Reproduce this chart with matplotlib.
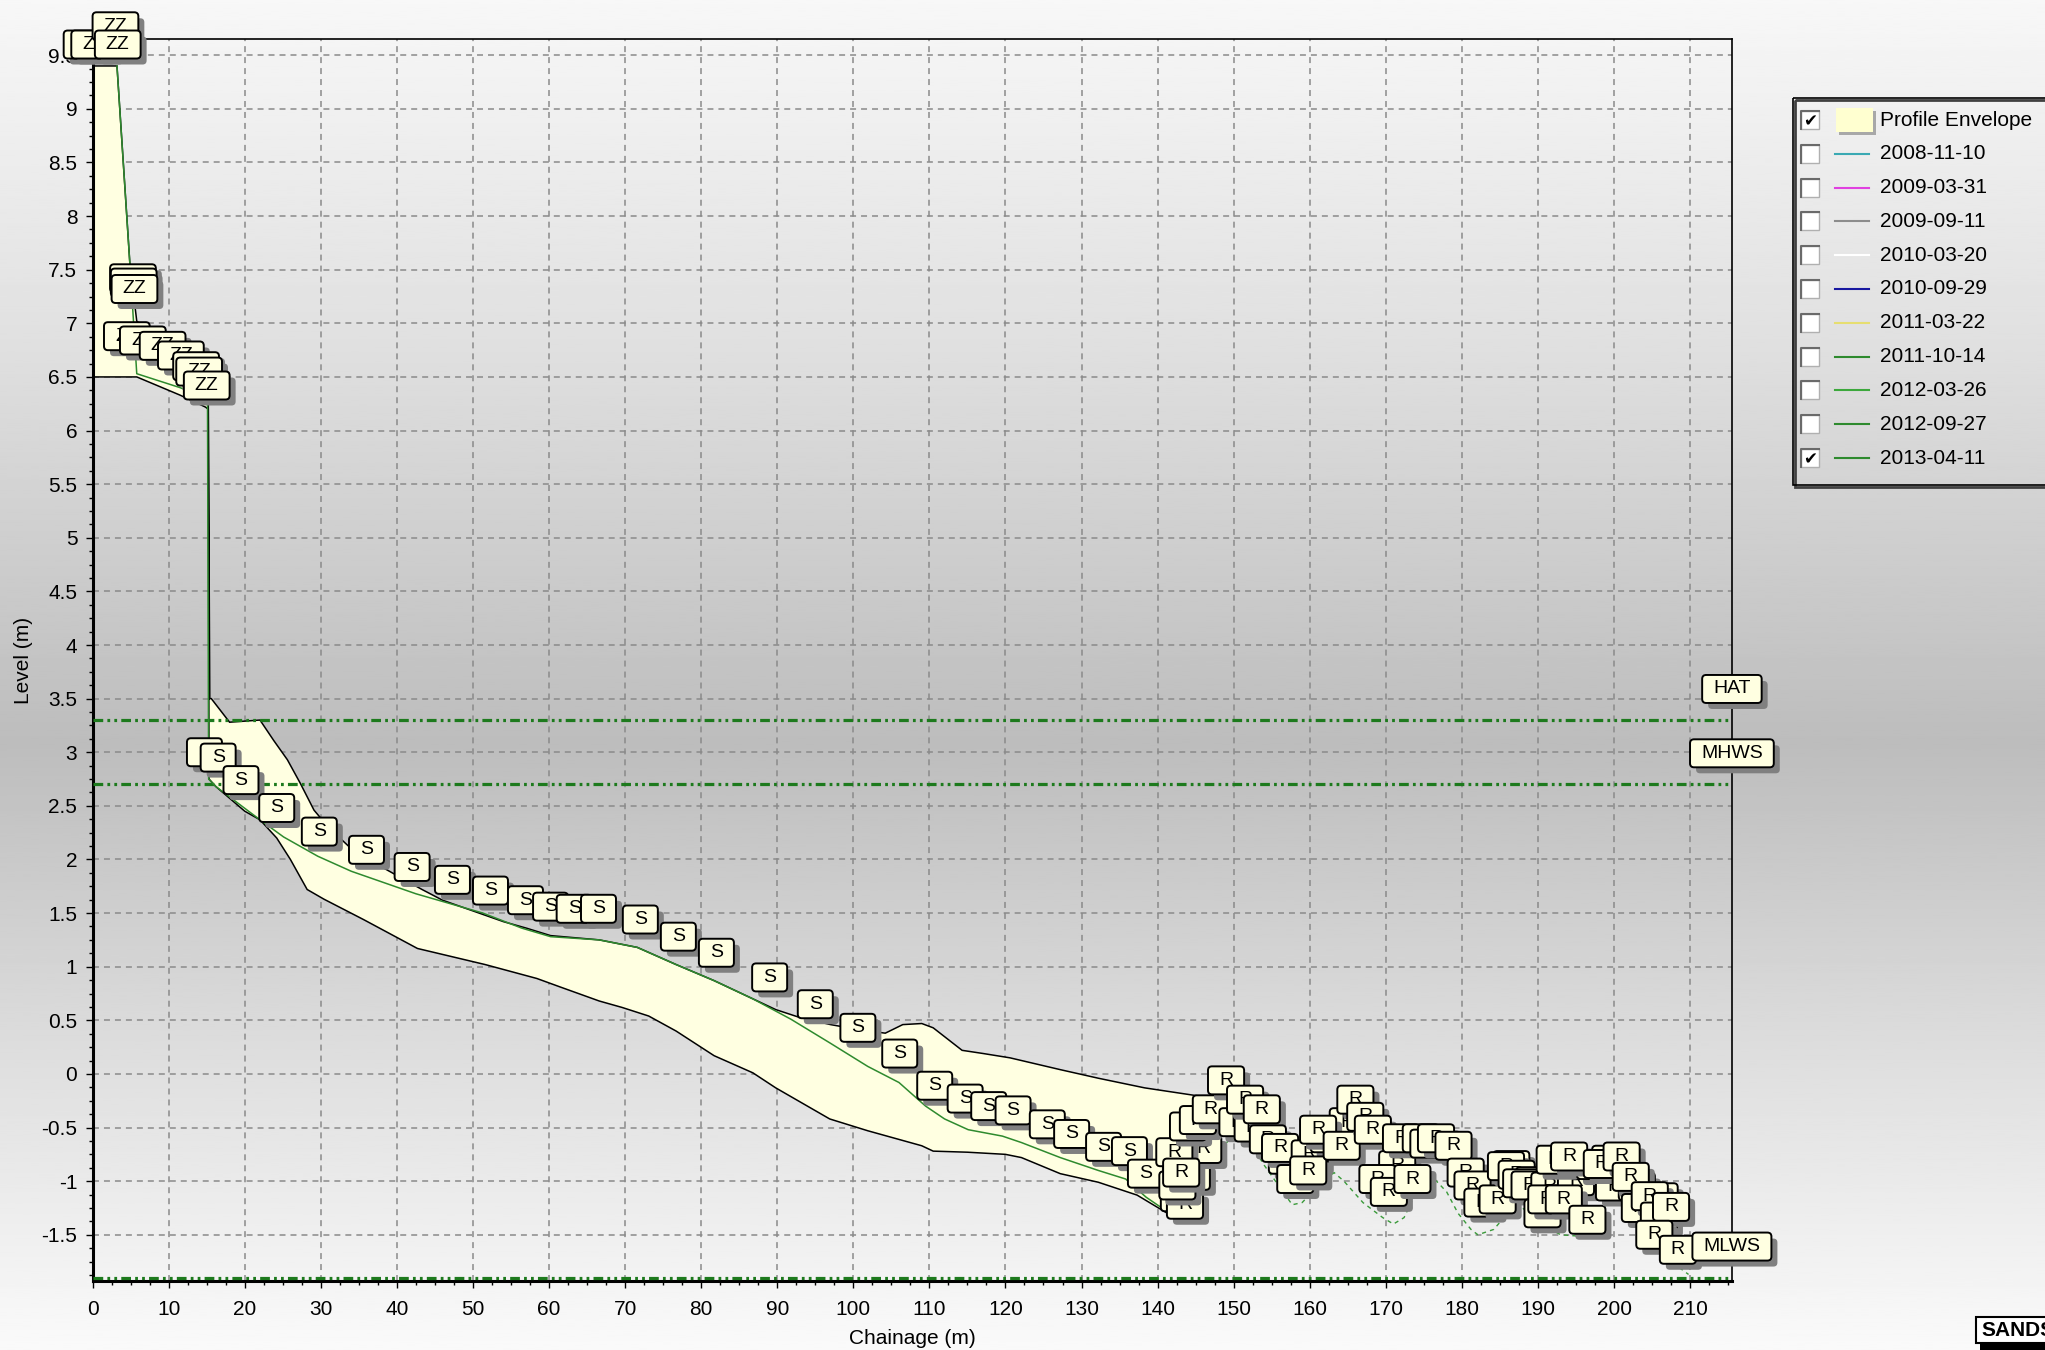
import numpy as np
import matplotlib
matplotlib.use("Agg")
import matplotlib.pyplot as plt
from matplotlib.patches import FancyBboxPatch, Rectangle
from matplotlib.transforms import ScaledTranslation
from matplotlib.ticker import MultipleLocator, FormatStrFormatter

plt.rcParams["font.family"] = ["Liberation Sans", "DejaVu Sans"]
plt.rcParams["lines.scale_dashes"] = False

# profile envelope (upper and lower bounds)
env_top_x = [0, 3.2, 4.9, 5.8, 8.0, 10.5, 12.5, 14.5, 15.2, 15.4, 15.6, 18.0, 22.0, 23.8,
             25.6, 27.3, 29.1, 31.0, 33.7, 38.0, 43.3, 46.0, 50.0, 54.0, 57.0, 60.2, 66.6,
             71.6, 76.7, 81.7, 86.8, 89.8, 92.8, 97.0, 101.0, 104.2, 106.5, 109.0, 110.5,
             114.3, 117.1, 120.6, 127.2, 132.2, 138.3, 145.8, 148.0]
env_top_y = [9.4, 9.4, 7.55, 7.02, 6.9, 6.78, 6.66, 6.52, 6.32, 3.5, 3.5, 3.28, 3.30, 3.11,
             2.93, 2.71, 2.46, 2.30, 2.12, 1.93, 1.72, 1.62, 1.52, 1.42, 1.36, 1.29, 1.25,
             1.18, 1.02, 0.87, 0.70, 0.60, 0.53, 0.46, 0.41, 0.38, 0.46, 0.47, 0.43,
             0.22, 0.19, 0.15, 0.04, -0.04, -0.13, -0.21, -0.22]
env_bot_x = [0, 5.8, 11.5, 14.8, 15.2, 15.3, 16.2, 20.0, 22.0, 24.2, 26.0, 28.2, 30.4, 35.6,
             42.7, 51.6, 58.4, 61.5, 66.6, 69.6, 73.1, 76.7, 81.7, 86.8, 89.8, 96.9, 101.9,
             109.0, 110.5, 115.0, 120.0, 122.1, 127.2, 132.2, 137.3, 142.0, 144.0, 146.0,
             148.0]
env_bot_y = [6.5, 6.5, 6.33, 6.22, 6.2, 2.75, 2.68, 2.45, 2.37, 2.2, 2.0, 1.72, 1.63, 1.44,
             1.17, 1.02, 0.89, 0.81, 0.68, 0.62, 0.54, 0.40, 0.17, 0.01, -0.13, -0.42, -0.53,
             -0.67, -0.72, -0.73, -0.75, -0.78, -0.93, -1.01, -1.13, -1.33, -1.2, -0.9,
             -0.5]

# 2013-04-11 survey
prof_x = [3.2, 4.9, 5.8, 11.5, 15.1, 15.25, 16.2, 22.0, 25.1, 29.6, 34.0, 42.5, 51.3, 56.4,
          60.2, 66.6, 71.6, 76.7, 81.7, 86.8, 91.8, 96.9, 101.9, 106.0, 109.5, 112.0, 115.1,
          119.6, 122.1, 127.2, 132.2, 135.8, 138.5, 142.0, 145.0, 148.0, 150.0, 152.0, 154.0,
          156.0, 157.7, 159.0, 161.0, 163.2, 164.5, 167.0, 169.6, 171.0, 172.4, 174.0, 176.0,
          178.0, 179.5, 181.2, 182.1, 184.2, 186.0, 188.0, 189.8, 193.0, 196.7, 198.0, 199.6,
          201.0, 203.0, 205.2, 207.5, 209.8]
prof_y = [9.4, 7.55, 6.53, 6.40, 6.30, 2.75, 2.68, 2.37, 2.21, 2.03, 1.89, 1.68, 1.50, 1.36,
          1.28, 1.25, 1.18, 1.02, 0.87, 0.70, 0.51, 0.29, 0.07, -0.08, -0.30, -0.42, -0.52,
          -0.58, -0.64, -0.78, -0.90, -0.98, -1.15, -1.32, -1.15, -0.75, -0.55, -0.62, -0.85,
          -1.05, -1.22, -1.2, -1.05, -0.92, -1.00, -1.20, -1.34, -1.40, -1.34, -1.10, -0.95,
          -1.10, -1.30, -1.45, -1.5, -1.45, -1.3, -1.25, -1.38, -1.5, -1.52, -1.35, -1.12,
          -1.20, -1.45, -1.6, -1.75, -1.87]

# tide levels
tide_names = ["HAT", "MHWS", "MLWS"]
tide_levels = [3.3, 2.7, -1.9]

# feature code labels
zz_x = [-0.8, 0.2, 3.0, 3.3, 5.3, 5.4, 5.5, 4.5, 6.6, 9.2, 11.6, 13.6, 14.0, 15.0]
zz_y = [9.6, 9.6, 9.77, 9.6, 7.42, 7.38, 7.32, 6.88, 6.84, 6.79, 6.70, 6.60, 6.55, 6.42]
s_x = [14.7, 16.5, 19.5, 24.2, 29.8, 36.0, 42.0, 47.3, 52.3, 56.9, 60.2, 63.3, 66.5, 72.0,
       77.0, 82.0, 89.0, 95.0, 100.6, 106.1, 110.7, 114.7, 117.8, 121.0, 125.5, 128.7,
       132.9, 136.3, 138.4]
s_y = [3.0, 2.95, 2.74, 2.48, 2.26, 2.09, 1.93, 1.81, 1.71, 1.62, 1.56, 1.54, 1.54, 1.44,
       1.28, 1.13, 0.90, 0.65, 0.43, 0.19, -0.11, -0.23, -0.30, -0.34, -0.47, -0.56,
       -0.68, -0.72, -0.93]
r_x = [142.8, 143.6, 144.5, 146.0, 142.2, 142.6, 143.1, 144.0, 145.3, 147.0, 150.5, 152.5,
       149.0, 151.5, 153.7, 157.0, 154.5, 156.1, 158.1, 160.0, 162.5, 165.0, 159.8, 161.1,
       164.2, 166.0, 167.3, 168.3, 171.5, 172.0, 168.9, 170.4, 173.5, 174.6, 175.6, 176.6,
       178.9, 183.5, 180.5, 181.4, 182.7, 184.7, 186.5, 185.8, 187.2, 189.5, 187.8, 188.9,
       191.5, 190.6, 191.1, 195.0, 192.2, 193.4, 197.5, 199.5, 194.1, 196.5, 200.0, 198.4,
       201.0, 203.0, 202.2, 203.4, 206.0, 204.7, 205.9, 207.5, 205.3, 208.4]
r_y = [-1.15, -1.22, -0.95, -0.7, -0.73, -1.04, -0.92, -0.49, -0.43, -0.33, -0.45, -0.5,
       -0.06, -0.24, -0.33, -0.8, -0.61, -0.69, -0.98, -0.75, -0.6, -0.45, -0.90, -0.52,
       -0.67, -0.24, -0.40, -0.52, -0.85, -0.6, -0.98, -1.10, -0.98, -0.60, -0.65, -0.60,
       -0.67, -1.1, -0.92, -1.04, -1.20, -1.17, -0.85, -0.86, -0.94, -1.0, -1.02, -1.04,
       -1.05, -1.30, -1.17, -1.0, -0.80, -1.17, -0.85, -0.8, -0.77, -1.36, -1.05, -0.84,
       -0.77, -1.05, -0.96, -1.25, -1.15, -1.14, -1.33, -1.24, -1.50, -1.64]

# legend
legend_dates = ["2008-11-10", "2009-03-31", "2009-09-11", "2010-03-20", "2010-09-29",
                "2011-03-22", "2011-10-14", "2012-03-26", "2012-09-27", "2013-04-11"]
legend_colors = ["#3aa9b3", "#e040e0", "#8c8c8c", "#ffffff", "#1818a0",
                 "#e6de70", "#2e8a2e", "#3ca83c", "#2e8a2e", "#2e8a2e"]
legend_checked = [False, False, False, False, False, False, False, False, False, True]

DPI = 100
W, H = 2045, 1350
fig = plt.figure(figsize=(W / DPI, H / DPI), dpi=DPI)

# grey gradient background
bg = fig.add_axes([0, 0, 1, 1], zorder=0)
tt = np.linspace(0, 1, 500)
shade = np.interp(tt, [0, 0.25, 0.55, 0.8, 1], [0.97, 0.88, 0.74, 0.88, 0.98])
bg.imshow(shade[:, None], cmap="gray", vmin=0, vmax=1, aspect="auto",
          extent=[0, 1, 0, 1], origin="upper")
bg.set_axis_off()

ax = fig.add_axes([0.0453, 0.0512, 0.8016, 0.9198], zorder=2)
ax.patch.set_visible(False)
ax.set_xlim(0, 215.5)
ax.set_ylim(-1.93, 9.65)

ax.xaxis.set_major_locator(MultipleLocator(10))
ax.xaxis.set_minor_locator(MultipleLocator(2.5))
ax.yaxis.set_major_locator(MultipleLocator(0.5))
ax.yaxis.set_minor_locator(MultipleLocator(0.125))
ax.yaxis.set_major_formatter(FormatStrFormatter("%g"))
ax.set_xticks(np.arange(0, 211, 10))
ax.tick_params(which="major", direction="out", length=5, width=1, labelsize=15, pad=6)
ax.tick_params(axis="x", which="major", pad=9)
ax.tick_params(which="minor", direction="out", length=3, width=1)
ax.spines["left"].set_linewidth(2.2)
ax.spines["bottom"].set_linewidth(2.2)
ax.spines["top"].set_linewidth(1.2)
ax.spines["right"].set_linewidth(1.2)
ax.set_axisbelow(True)
ax.grid(True, which="major", color="#8a8a8a", linestyle=(0, (4.3, 3.6)), linewidth=1.1)
ax.set_xlabel("Chainage (m)", fontsize=15, labelpad=7)
ax.set_ylabel("Level (m)", fontsize=15, labelpad=6)

ax.fill(env_top_x + env_bot_x[::-1], env_top_y + env_bot_y[::-1],
        fc="#ffffe1", ec="black", lw=1.1, zorder=2)

px = np.array(prof_x)
py = np.array(prof_y)
ax.plot(px[px <= 142.0], py[px <= 142.0], color="#2e8a2e", lw=1.1, zorder=4)
ax.plot(px[px >= 142.0], py[px >= 142.0], color="#3a9a3a", lw=1.0,
        ls=(0, (3, 3)), zorder=4)

for lev in tide_levels:
    ax.axhline(lev, color="#1d7a1d", lw=2.3, ls=(0, (7, 3, 2, 3, 2, 3)), zorder=3)

renderer = fig.canvas.get_renderer()


def tag(x, y, txt, z):
    t = ax.text(x, y, txt, ha="center", va="center", fontsize=14, color="black",
                zorder=z + 0.2, clip_on=False)
    w = (t.get_window_extent(renderer).width + 22) / DPI
    h = 28 / DPI
    tr = fig.dpi_scale_trans + ScaledTranslation(x, y, ax.transData)
    ax.add_patch(FancyBboxPatch((-w / 2 + 0.06, -h / 2 - 0.06), w, h,
                                boxstyle="round,pad=0,rounding_size=0.04", transform=tr,
                                fc="#808080", ec="none", zorder=z, clip_on=False))
    ax.add_patch(FancyBboxPatch((-w / 2, -h / 2), w, h,
                                boxstyle="round,pad=0,rounding_size=0.04", transform=tr,
                                fc="#ffffe1", ec="black", lw=1.4, zorder=z + 0.1,
                                clip_on=False))


z = 10
for xs, ys, code in [(zz_x, zz_y, "ZZ"), (s_x, s_y, "S"), (r_x, r_y, "R")]:
    for x, y in zip(xs, ys):
        tag(x, y, code, z)
        z += 1

xmax = ax.get_xlim()[1]
for name, lev in zip(tide_names, tide_levels):
    tag(xmax, lev + 0.29, name, z)
    z += 1

# legend panel and logo, drawn in figure pixels
ov = fig.add_axes([0, 0, 1, 1], zorder=5)
ov.set_xlim(0, W)
ov.set_ylim(H, 0)
ov.set_axis_off()

lx, ly, lwid, lht = 1793, 98, 270, 387
ov.add_patch(Rectangle((lx + 2, ly + 2), lwid, lht, fc="none", ec="#404040", lw=2))
ov.add_patch(Rectangle((lx, ly), lwid, lht, fc="none", ec="black", lw=1.2))

entries = ["Profile Envelope"] + legend_dates
checks = [True] + legend_checked
row0, step = 120, 33.8
for i, (lab, chk) in enumerate(zip(entries, checks)):
    yc = row0 + i * step
    ov.add_patch(Rectangle((1801, yc - 9), 18, 18, fc="white", ec="#b0b0b0", lw=1))
    ov.plot([1801, 1801, 1819], [yc + 9, yc - 9, yc - 9], color="#6a6a6a", lw=1.5)
    if chk:
        ov.text(1810, yc + 1, "\u2714", ha="center", va="center", fontsize=12,
                family="DejaVu Sans", color="black")
    if i == 0:
        ov.add_patch(Rectangle((1839, yc - 9), 37, 24, fc="#a8a8a8", ec="none"))
        ov.add_patch(Rectangle((1836, yc - 12), 37, 24, fc="#ffffd0", ec="none"))
    else:
        ov.plot([1835, 1869], [yc, yc], color=legend_colors[i - 1], lw=1.5)
    ov.text(1880, yc, lab, ha="left", va="center", fontsize=15, color="black")

ov.add_patch(Rectangle((1980, 1342), 100, 10, fc="black", ec="none"))
ov.add_patch(Rectangle((1976, 1317), 100, 26, fc="white", ec="black", lw=1.5))
ov.text(1981, 1331, "SANDS", ha="left", va="center", fontsize=15, fontweight="bold",
        color="black")

fig.savefig("out.png", dpi=DPI)
